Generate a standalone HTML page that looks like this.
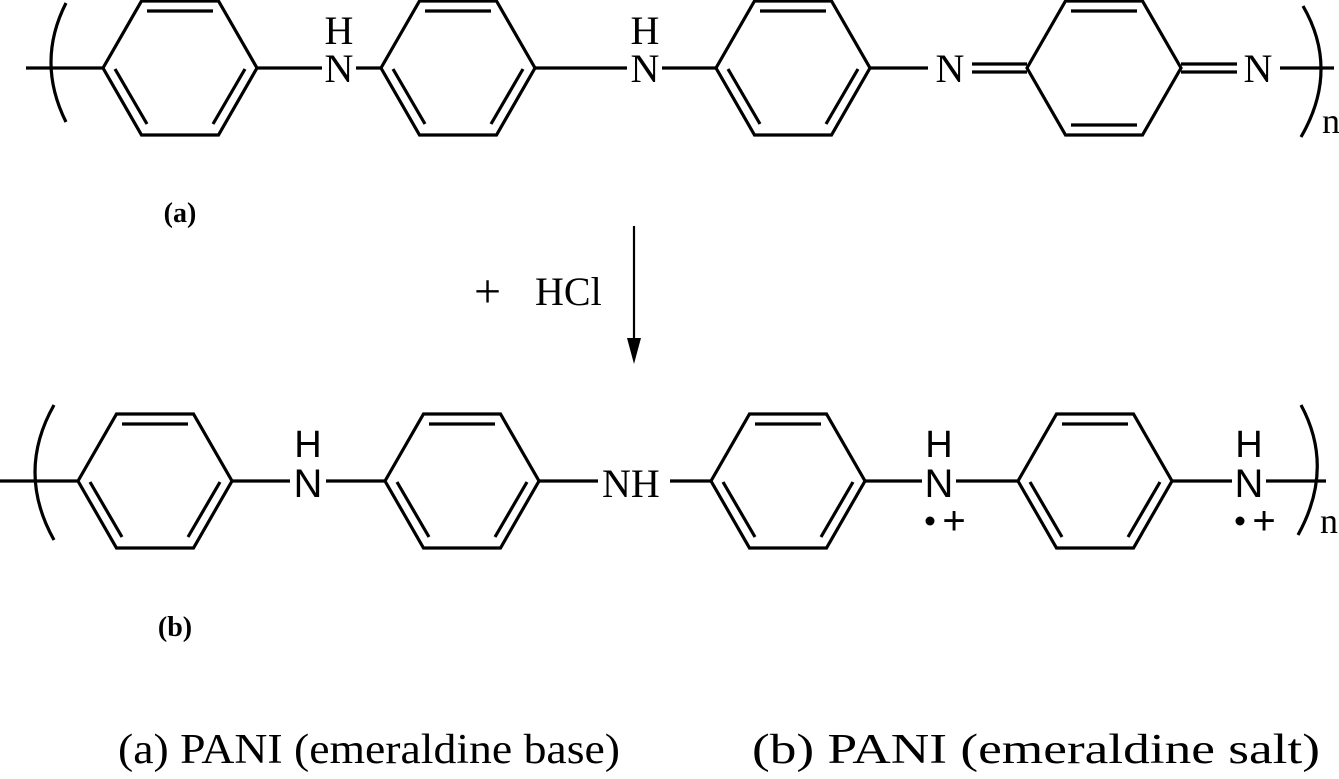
<!DOCTYPE html>
<html><head><meta charset="utf-8"><style>html,body{margin:0;padding:0;background:#fff}svg{display:block}</style></head>
<body>
<svg width="1339" height="779" viewBox="0 0 1339 779" xmlns="http://www.w3.org/2000/svg">
<defs>
<g id="benz" fill="none" stroke="#000" stroke-width="3.2">
<polygon points="-77,0 -38.5,-67 38.5,-67 77,0 38.5,67 -38.5,67"/>
<line x1="-33" y1="-57" x2="33" y2="-57"/>
<line x1="-65" y1="1" x2="-33" y2="56"/>
<line x1="65" y1="1" x2="33" y2="56"/>
</g>
<g id="quin" fill="none" stroke="#000" stroke-width="3.2">
<polygon points="-77,0 -38.5,-67 38.5,-67 77,0 38.5,67 -38.5,67"/>
<line x1="-33" y1="-57" x2="33" y2="-57"/>
<line x1="-33" y1="57" x2="33" y2="57"/>
</g>
</defs>
<g font-family="Liberation Serif, serif" fill="#000">
<use href="#benz" x="180" y="68"/>
<use href="#benz" x="458" y="68"/>
<use href="#benz" x="793" y="68"/>
<use href="#quin" x="1104" y="68"/>
<g stroke="#000" stroke-width="3.2" fill="none">
<line x1="26" y1="68" x2="103" y2="68"/>
<path d="M66,3 Q36,62 66,122"/>
<line x1="257" y1="68" x2="322" y2="68"/>
<line x1="356" y1="68" x2="381" y2="68"/>
<line x1="535" y1="68" x2="627" y2="68"/>
<line x1="662" y1="68" x2="716" y2="68"/>
<line x1="870" y1="68" x2="928" y2="68"/>
<line x1="972" y1="64" x2="1027" y2="64"/>
<line x1="972" y1="72" x2="1027" y2="72"/>
<line x1="1181" y1="64" x2="1237" y2="64"/>
<line x1="1181" y1="72" x2="1237" y2="72"/>
<line x1="1280" y1="68" x2="1334" y2="68"/>
<path d="M1303,6 Q1340,70 1301,137"/>
</g>
<text x="339" y="82" font-size="40" text-anchor="middle">N</text>
<text x="339" y="44" font-size="40" text-anchor="middle">H</text>
<text x="645" y="82" font-size="40" text-anchor="middle">N</text>
<text x="645" y="44" font-size="40" text-anchor="middle">H</text>
<text x="950" y="82" font-size="40" text-anchor="middle">N</text>
<text x="1258" y="82" font-size="40" text-anchor="middle">N</text>
<text x="1322" y="133" font-size="36">n</text>
<text x="180" y="222" font-size="28" font-weight="bold" text-anchor="middle">(a)</text>
<line x1="634" y1="226" x2="634" y2="345" stroke="#000" stroke-width="2.2"/>
<polygon points="627,338 641,338 634,364" fill="#000"/>
<text x="474" y="307" font-size="48">+</text>
<text x="535" y="305" font-size="40">HCl</text>
<use href="#benz" x="155" y="481"/>
<use href="#benz" x="462" y="481"/>
<use href="#benz" x="788" y="481"/>
<use href="#benz" x="1095" y="481"/>
<g stroke="#000" stroke-width="3.2" fill="none">
<line x1="0" y1="481" x2="78" y2="481"/>
<path d="M54,405 Q16,472 54,540"/>
<line x1="232" y1="481" x2="290" y2="481"/>
<line x1="326" y1="481" x2="385" y2="481"/>
<line x1="539" y1="481" x2="598" y2="481"/>
<line x1="670" y1="481" x2="711" y2="481"/>
<line x1="865" y1="481" x2="922" y2="481"/>
<line x1="956" y1="481" x2="1018" y2="481"/>
<line x1="1172" y1="481" x2="1232" y2="481"/>
<line x1="1266" y1="481" x2="1326" y2="481"/>
<path d="M1301,405 Q1335,468 1298,535"/>
</g>
<g font-family="Liberation Sans, sans-serif">
<text x="308" y="497" font-size="40" text-anchor="middle">N</text>
<text x="308" y="457" font-size="38" text-anchor="middle">H</text>
<text x="939" y="497" font-size="40" text-anchor="middle">N</text>
<text x="939" y="457" font-size="38" text-anchor="middle">H</text>
<text x="1249" y="497" font-size="40" text-anchor="middle">N</text>
<text x="1249" y="457" font-size="38" text-anchor="middle">H</text>
<text x="954" y="534" font-size="40" text-anchor="middle">+</text>
<text x="1264" y="534" font-size="40" text-anchor="middle">+</text>
</g>
<circle cx="930" cy="521" r="4.5"/>
<circle cx="1240" cy="521" r="4.5"/>
<text x="602" y="497" font-size="40">NH</text>
<text x="1320" y="533" font-size="36">n</text>
<text x="175" y="636" font-size="28" font-weight="bold" text-anchor="middle">(b)</text>
<text x="118" y="763" font-size="42" textLength="502" lengthAdjust="spacingAndGlyphs">(a) PANI (emeraldine base)</text>
<text x="752" y="763" font-size="42" textLength="568" lengthAdjust="spacingAndGlyphs">(b) PANI (emeraldine salt)</text>
</g>
</svg>
</body></html>
